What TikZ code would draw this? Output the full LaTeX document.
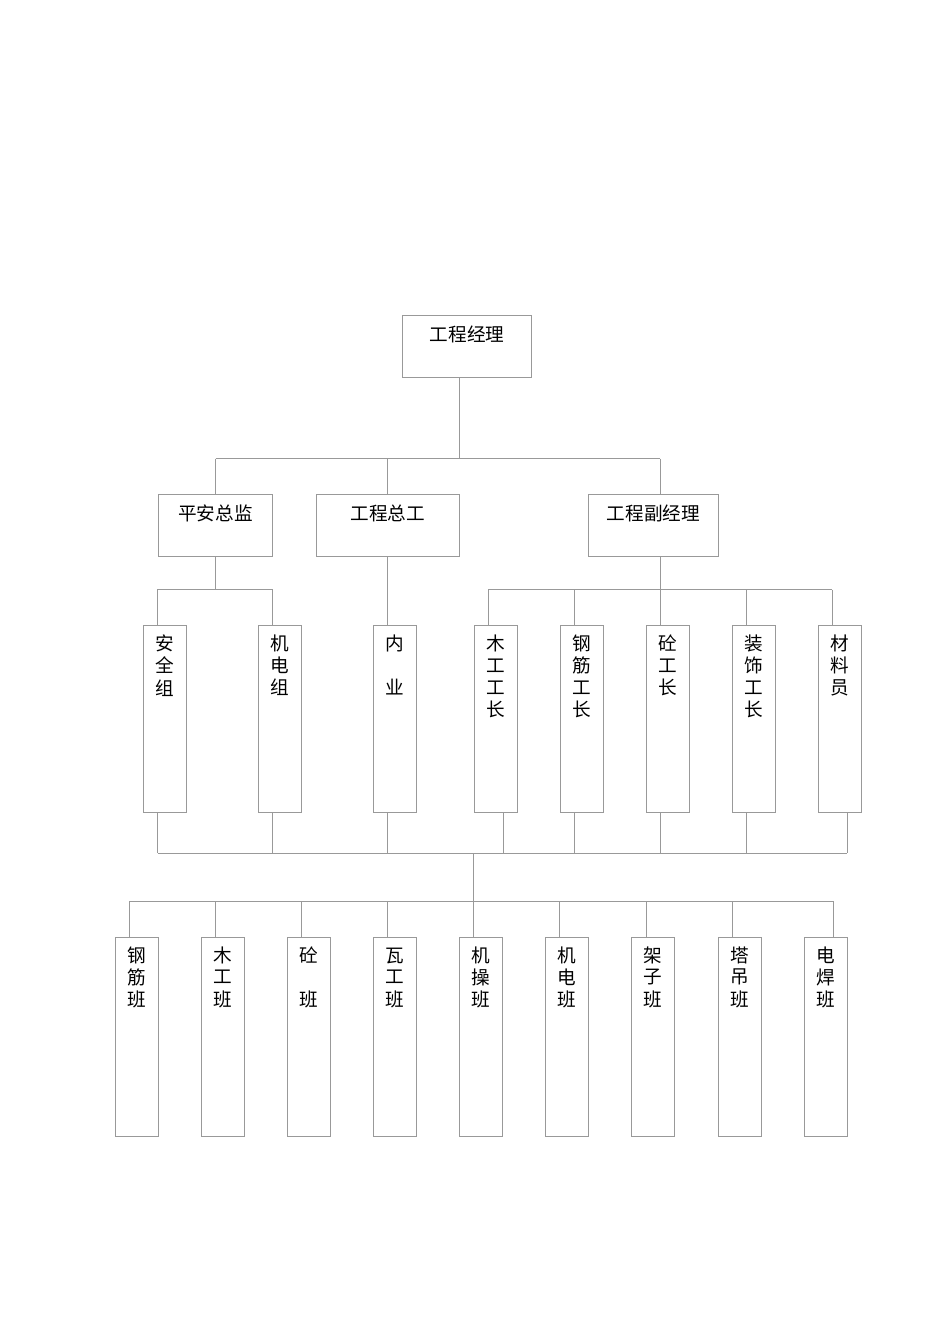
\documentclass[tikz,border=0pt]{standalone}
\usepackage{fontspec}
\newfontfamily\cjk{Noto Sans CJK SC}
\usepackage{tikz}

% one character per line, baseline on the first line
\newcommand{\vlabel}[1]{\begin{tabular}[t]{@{}c@{}}#1\end{tabular}}

\tikzset{
    box/.style={draw=black!40, line width=0.5pt, inner sep=0pt,
        font=\cjk\fontsize{10.6}{12.5}\selectfont},
    head/.style={box, text height=0.53cm, text depth=0.72cm},
    col/.style={box, minimum width=0.868cm, text height=0.5cm, text depth=3.236cm},
    team/.style={box, minimum width=0.868cm, text height=0.49cm, text depth=3.49cm},
    link/.style={draw=black!40, line width=0.5pt}
}

\begin{document}
\begin{tikzpicture}[x=0.02cm, y=-0.02cm]
    \useasboundingbox (0,0) rectangle (950,1344);

    % Nodes
    \node[head, minimum width=2.588cm] (pm) at (467,346.2) {工程经理};

    \node[head, minimum width=2.288cm] (aq) at (215.5,525.5) {平安总监};
    \node[head, minimum width=2.864cm] (zg) at (387.9,525.5) {工程总工};
    \node[head, minimum width=2.592cm] (fj) at (653.5,525.5) {工程副经理};

    \node[col] (aqz) at (165,718.9) {\vlabel{安\\全\\组}};
    \node[col] (jdz) at (280,718.9) {\vlabel{机\\电\\组}};
    \node[col] (ny) at (395,718.9) {\vlabel{内\\ \\业}};
    \node[col] (mg) at (495.7,718.9) {\vlabel{木\\工\\工\\长}};
    \node[col] (gj) at (581.7,718.9) {\vlabel{钢\\筋\\工\\长}};
    \node[col] (tg) at (667.7,718.9) {\vlabel{砼\\工\\长}};
    \node[col] (zs) at (754,718.9) {\vlabel{装\\饰\\工\\长}};
    \node[col] (cl) at (840,718.9) {\vlabel{材\\料\\员}};

    \node[team] (gjb) at (136.7,1037) {\vlabel{钢\\筋\\班}};
    \node[team] (mgb) at (222.7,1037) {\vlabel{木\\工\\班}};
    \node[team] (tb) at (308.7,1037) {\vlabel{砼\\ \\班}};
    \node[team] (wgb) at (394.7,1037) {\vlabel{瓦\\工\\班}};
    \node[team] (jcb) at (480.7,1037) {\vlabel{机\\操\\班}};
    \node[team] (jdb) at (566.7,1037) {\vlabel{机\\电\\班}};
    \node[team] (jzb) at (652.7,1037) {\vlabel{架\\子\\班}};
    \node[team] (tdb) at (739.7,1037) {\vlabel{塔\\吊\\班}};
    \node[team] (dhb) at (825.7,1037) {\vlabel{电\\焊\\班}};

    % Bus points
    \coordinate (a-pm) at (459.3,458.5);
    \coordinate (a-aq) at (215.7,458.5);
    \coordinate (a-zg) at (387.3,458.5);
    \coordinate (a-fj) at (660.3,458.5);

    \coordinate (b-aq) at (215.7,589.5);
    \coordinate (b-aqz) at (157.7,589.5);
    \coordinate (b-jdz) at (272.4,589.5);
    \coordinate (b-mg) at (488.3,589.5);
    \coordinate (b-gj) at (574.3,589.5);
    \coordinate (b-tg) at (660.3,589.5);
    \coordinate (b-zs) at (746.7,589.5);
    \coordinate (b-cl) at (832,589.5);

    \coordinate (c-aqz) at (157.7,853.3);
    \coordinate (c-jdz) at (272.3,853.3);
    \coordinate (c-ny) at (387.3,853.3);
    \coordinate (c-mg) at (503,853.3);
    \coordinate (c-gj) at (574.3,853.3);
    \coordinate (c-tg) at (660.3,853.3);
    \coordinate (c-zs) at (746.7,853.3);
    \coordinate (c-cl) at (847.3,853.3);
    \coordinate (c-mid) at (473.5,853.3);

    \coordinate (d-gjb) at (129.3,901);
    \coordinate (d-mgb) at (215.3,901);
    \coordinate (d-tb) at (301.3,901);
    \coordinate (d-wgb) at (387.3,901);
    \coordinate (d-jcb) at (473.5,901);
    \coordinate (d-jdb) at (559.7,901);
    \coordinate (d-jzb) at (646.3,901);
    \coordinate (d-tdb) at (732.7,901);
    \coordinate (d-dhb) at (833,901);

    % Lines
    \draw[link] (pm.south -| a-pm) -- (a-pm);
    \draw[link] (a-aq) -- (a-fj);
    \draw[link] (a-aq) -- (a-aq |- aq.north);
    \draw[link] (a-zg) -- (a-zg |- zg.north);
    \draw[link] (a-fj) -- (a-fj |- fj.north);

    \draw[link] (aq.south -| b-aq) -- (b-aq);
    \draw[link] (b-aqz |- aqz.north) -- (b-aqz) -- (b-jdz) -- (b-jdz |- jdz.north);
    \draw[link] (zg.south -| a-zg) -- (a-zg |- ny.north);
    \draw[link] (fj.south -| b-tg) -- (b-tg);
    \draw[link] (b-mg) -- (b-cl);
    \draw[link] (b-mg) -- (b-mg |- mg.north);
    \draw[link] (b-gj) -- (b-gj |- gj.north);
    \draw[link] (b-tg) -- (b-tg |- tg.north);
    \draw[link] (b-zs) -- (b-zs |- zs.north);
    \draw[link] (b-cl) -- (b-cl |- cl.north);

    \draw[link] (c-aqz) -- (c-cl);
    \draw[link] (aqz.south -| c-aqz) -- (c-aqz);
    \draw[link] (jdz.south -| c-jdz) -- (c-jdz);
    \draw[link] (ny.south -| c-ny) -- (c-ny);
    \draw[link] (mg.south -| c-mg) -- (c-mg);
    \draw[link] (gj.south -| c-gj) -- (c-gj);
    \draw[link] (tg.south -| c-tg) -- (c-tg);
    \draw[link] (zs.south -| c-zs) -- (c-zs);
    \draw[link] (cl.south -| c-cl) -- (c-cl);
    \draw[link] (c-mid) -- (d-jcb);

    \draw[link] (d-gjb) -- (d-dhb);
    \draw[link] (d-gjb) -- (d-gjb |- gjb.north);
    \draw[link] (d-mgb) -- (d-mgb |- mgb.north);
    \draw[link] (d-tb) -- (d-tb |- tb.north);
    \draw[link] (d-wgb) -- (d-wgb |- wgb.north);
    \draw[link] (d-jcb) -- (d-jcb |- jcb.north);
    \draw[link] (d-jdb) -- (d-jdb |- jdb.north);
    \draw[link] (d-jzb) -- (d-jzb |- jzb.north);
    \draw[link] (d-tdb) -- (d-tdb |- tdb.north);
    \draw[link] (d-dhb) -- (d-dhb |- dhb.north);

\end{tikzpicture}
\end{document}
